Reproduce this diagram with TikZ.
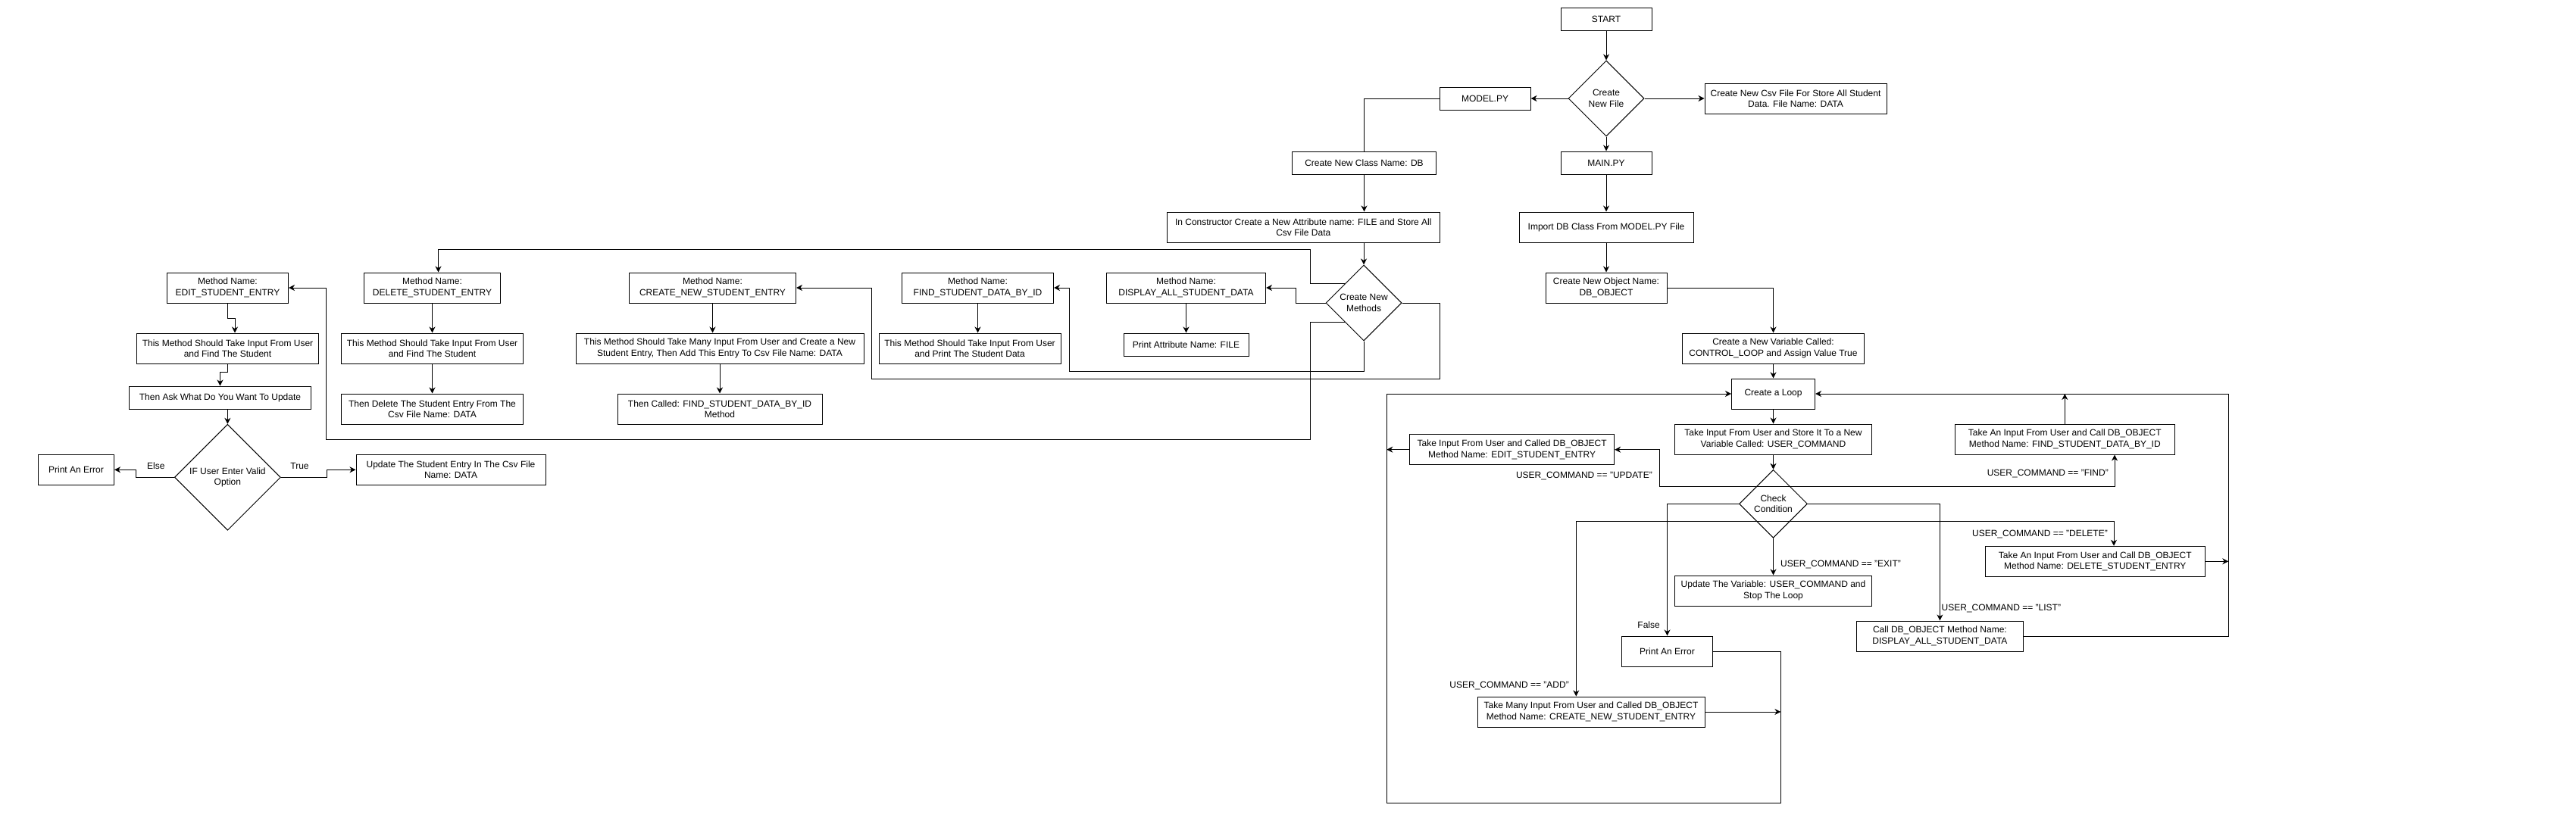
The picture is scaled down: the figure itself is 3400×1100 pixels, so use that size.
\documentclass[tikz,border=0pt]{standalone}
\usepackage{fontspec}
\setmainfont{Liberation Sans}
\usepackage{tikz}
\usetikzlibrary{shapes,shapes.geometric,arrows.meta,calc}

\begin{document}
\begin{tikzpicture}[x=1pt,y=-1pt]
        %styles
        \tikzstyle{proc}=[rectangle, draw, line width=1pt, align=center, inner sep=0pt, font=\fontsize{12}{14.4}\selectfont]
        \tikzstyle{cond}=[diamond, draw, line width=1pt, align=center, inner sep=0pt, font=\fontsize{12}{14.4}\selectfont]
        \tikzstyle{lbl}=[inner sep=0pt, font=\fontsize{12}{14.4}\selectfont]
        \tikzstyle{flow}=[-{Stealth[length=8pt,width=8pt,inset=2.5pt]}, line width=1pt]
        \tikzstyle{wire}=[line width=1pt]

        \fill[white] (0,0) rectangle (3400,1100);
        \useasboundingbox (0,0) rectangle (3400,1100);

        %nodes: main.py side
        \node[proc, minimum width=120, minimum height=30] (start) at (2120,25) {START};
        \node[cond, minimum width=100, minimum height=100] (newfile) at (2120,130) {Create\\New File};
        \node[proc, minimum width=120, minimum height=30] (model) at (1960,130) {MODEL.PY};
        \node[proc, minimum width=240, minimum height=40] (csv) at (2370,130) {Create New Csv File For Store All Student\\Data. File Name: DATA};
        \node[proc, minimum width=120, minimum height=30] (mainpy) at (2120,215) {MAIN.PY};
        \node[proc, minimum width=230, minimum height=40] (import) at (2120,300) {Import DB Class From MODEL.PY File};
        \node[proc, minimum width=160, minimum height=40] (object) at (2120,380) {Create New Object Name:\\DB\_OBJECT};
        \node[proc, minimum width=240, minimum height=40] (ctrl) at (2340.5,460) {Create a New Variable Called:\\CONTROL\_LOOP and Assign Value True};
        \node[proc, minimum width=110, minimum height=40] (loop) at (2340.5,520) {Create a Loop};
        \node[proc, minimum width=260, minimum height=40] (cmd) at (2340.5,580) {Take Input From User and Store It To a New\\Variable Called: USER\_COMMAND};
        \node[cond, minimum width=90, minimum height=90] (check) at (2340.5,665.3) {Check\\Condition};
        \node[proc, minimum width=270, minimum height=40] (editcall) at (1995.6,593.7) {Take Input From User and Called DB\_OBJECT\\Method Name: EDIT\_STUDENT\_ENTRY};
        \node[proc, minimum width=290, minimum height=40] (findcall) at (2725.3,580) {Take An Input From User and Call DB\_OBJECT\\Method Name: FIND\_STUDENT\_DATA\_BY\_ID};
        \node[proc, minimum width=290, minimum height=40] (delcall) at (2765.3,741.3) {Take An Input From User and Call DB\_OBJECT\\Method Name: DELETE\_STUDENT\_ENTRY};
        \node[proc, minimum width=260, minimum height=40] (exitbox) at (2340.5,780) {Update The Variable: USER\_COMMAND and\\Stop The Loop};
        \node[proc, minimum width=220, minimum height=40] (listcall) at (2560.4,840) {Call DB\_OBJECT Method Name:\\DISPLAY\_ALL\_STUDENT\_DATA};
        \node[proc, minimum width=120, minimum height=40] (err2) at (2200.5,860) {Print An Error};
        \node[proc, minimum width=300, minimum height=40] (addcall) at (2100,940) {Take Many Input From User and Called DB\_OBJECT\\Method Name: CREATE\_NEW\_STUDENT\_ENTRY};

        %nodes: model.py side
        \node[proc, minimum width=190, minimum height=30] (dbclass) at (1800.5,215) {Create New Class Name: DB};
        \node[proc, minimum width=360, minimum height=40] (constr) at (1720.3,300) {In Constructor Create a New Attribute name: FILE and Store All\\Csv File Data};
        \node[cond, minimum width=100, minimum height=100] (meth) at (1800,400) {Create New\\Methods};
        \node[proc, minimum width=210, minimum height=40] (display) at (1565.5,380) {Method Name:\\DISPLAY\_ALL\_STUDENT\_DATA};
        \node[proc, minimum width=165, minimum height=30] (printfile) at (1565.5,455) {Print Attribute Name: FILE};
        \node[proc, minimum width=200, minimum height=40] (find) at (1290.5,380) {Method Name:\\FIND\_STUDENT\_DATA\_BY\_ID};
        \node[proc, minimum width=240, minimum height=40] (finddesc) at (1280,460) {This Method Should Take Input From User\\and Print The Student Data};
        \node[proc, minimum width=220, minimum height=40] (create) at (940.5,380) {Method Name:\\CREATE\_NEW\_STUDENT\_ENTRY};
        \node[proc, minimum width=380, minimum height=40] (createdesc) at (950,460) {This Method Should Take Many Input From User and Create a New\\Student Entry, Then Add This Entry To Csv File Name: DATA};
        \node[proc, minimum width=270, minimum height=40] (createcall) at (950,540) {Then Called: FIND\_STUDENT\_DATA\_BY\_ID\\Method};
        \node[proc, minimum width=180, minimum height=40] (delete) at (570.5,380) {Method Name:\\DELETE\_STUDENT\_ENTRY};
        \node[proc, minimum width=240, minimum height=40] (deldesc) at (570.5,460) {This Method Should Take Input From User\\and Find The Student};
        \node[proc, minimum width=240, minimum height=40] (delfinal) at (570.5,540) {Then Delete The Student Entry From The\\Csv File Name: DATA};
        \node[proc, minimum width=160, minimum height=40] (edit) at (300.5,380) {Method Name:\\EDIT\_STUDENT\_ENTRY};
        \node[proc, minimum width=240, minimum height=40] (editdesc) at (300.5,460) {This Method Should Take Input From User\\and Find The Student};
        \node[proc, minimum width=240, minimum height=30] (ask) at (290.5,525) {Then Ask What Do You Want To Update};
        \node[cond, minimum width=140, minimum height=140] (valid) at (300.4,630.3) {IF User Enter Valid\\Option};
        \node[proc, minimum width=100, minimum height=40] (err1) at (100.5,620.3) {Print An Error};
        \node[proc, minimum width=250, minimum height=40] (upd) at (595,620.3) {Update The Student Entry In The Csv File\\Name: DATA};

        %labels
        \node[lbl] (lelse) at (205.8,615) {Else};
        \node[lbl] (ltrue) at (395.5,615) {True};
        \node[lbl, anchor=east] (lupd) at (2181,628) {USER\_COMMAND == "UPDATE"};
        \node[lbl, anchor=east] (lfind) at (2783,625) {USER\_COMMAND == "FIND"};
        \node[lbl, anchor=east] (ldel) at (2782,705) {USER\_COMMAND == "DELETE"};
        \node[lbl, anchor=west] (lexit) at (2350,745) {USER\_COMMAND == "EXIT"};
        \node[lbl, anchor=west] (llist) at (2562.5,803) {USER\_COMMAND == "LIST"};
        \node[lbl, anchor=east] (lfalse) at (2191,825) {False};
        \node[lbl, anchor=east] (ladd) at (2071,905) {USER\_COMMAND == "ADD"};

        %arrows: main.py side
        \draw[flow] (start) -- (newfile);
        \draw[flow] (newfile) -- (model);
        \draw[flow] (newfile) -- (csv);
        \draw[flow] (newfile) -- (mainpy);
        \draw[flow] (mainpy) -- (import);
        \draw[flow] (import) -- (object);
        \draw[flow] (object.east) -| (ctrl.north);
        \draw[flow] (ctrl) -- (loop);
        \draw[flow] (loop) -- (cmd);
        \draw[flow] (cmd) -- (check);

        \coordinate (chkU) at ($(check.north)!0.25!(check.south)$);
        \coordinate (chkD) at ($(check.north)!0.75!(check.south)$);
        \draw[flow] (check) -- (exitbox);
        \draw[flow] (chkU) -- ++(-150,0) |- (editcall.east);
        \draw[flow] (chkU) -| ([xshift=65.7pt]findcall.south);
        \draw[flow] (chkD) -| ([xshift=24.7pt]delcall.north);
        \draw[flow] (chkD) -| ([xshift=-19.7pt]addcall.north);
        \draw[flow] (check.east) -| (listcall.north);
        \draw[flow] (check.west) -| (err2.north);

        \coordinate (backL) at (1830.3,1060.3);
        \coordinate (backM) at (2350.4,1060.3);
        \coordinate (backR) at (2941.3,840);
        \draw[flow] (err2.east) -| (backM) -- (backL) |- (loop.west);
        \draw[flow] (addcall.east) -- (backM |- addcall.east);
        \draw[flow] (editcall.west) -- (backL |- editcall.west);
        \draw[flow] (listcall.east) -- (backR) |- (loop.east);
        \draw[flow] (delcall.east) -- (backR |- delcall.east);
        \draw[flow] (findcall.north) -- (findcall.north |- loop.east);

        %arrows: model.py side
        \draw[wire] (model.west) -| (dbclass.north);
        \draw[flow] (dbclass.south) -- (dbclass.south |- constr.north);
        \draw[flow] (meth.north |- constr.south) -- (meth.north);
        \draw[flow] (meth.west) -- ++(-39,0) |- (display.east);
        \draw[flow] (display) -- (printfile);
        \draw[flow] (meth.south) -- ++(0,40) -- ++(-389,0) |- (find.east);
        \draw[flow] (find.south) -- (find.south |- finddesc.north);
        \draw[flow] (meth.east) -- ++(50,0) -- ++(0,100) -- ++(-749.6,0) |- (create.east);
        \draw[flow] (create.south) -- (create.south |- createdesc.north);
        \draw[flow] (createdesc) -- (createcall);
        \draw[flow] (meth.north west) -- ++(-45,0) -- ++(0,-45) -| ([xshift=8pt]delete.north);
        \draw[flow] (delete) -- (deldesc);
        \draw[flow] (deldesc) -- (delfinal);
        \draw[flow] (meth.south west) -- ++(-45,0) -- ++(0,155) -- ++(-1299,0) |- (edit.east);
        \draw[flow] (edit.south) -- ++(0,20) -| ([xshift=9.5pt]editdesc.north);
        \draw[flow] (editdesc.south) -- ++(0,10.7) -| (ask.north);
        \draw[flow] (valid.north |- ask.south) -- (valid.north);
        \draw[flow] (valid.west) -- ++(-50,0) |- (err1.east);
        \draw[flow] (valid.east) -- ++(60.4,0) |- (upd.west);
\end{tikzpicture}
\end{document}
